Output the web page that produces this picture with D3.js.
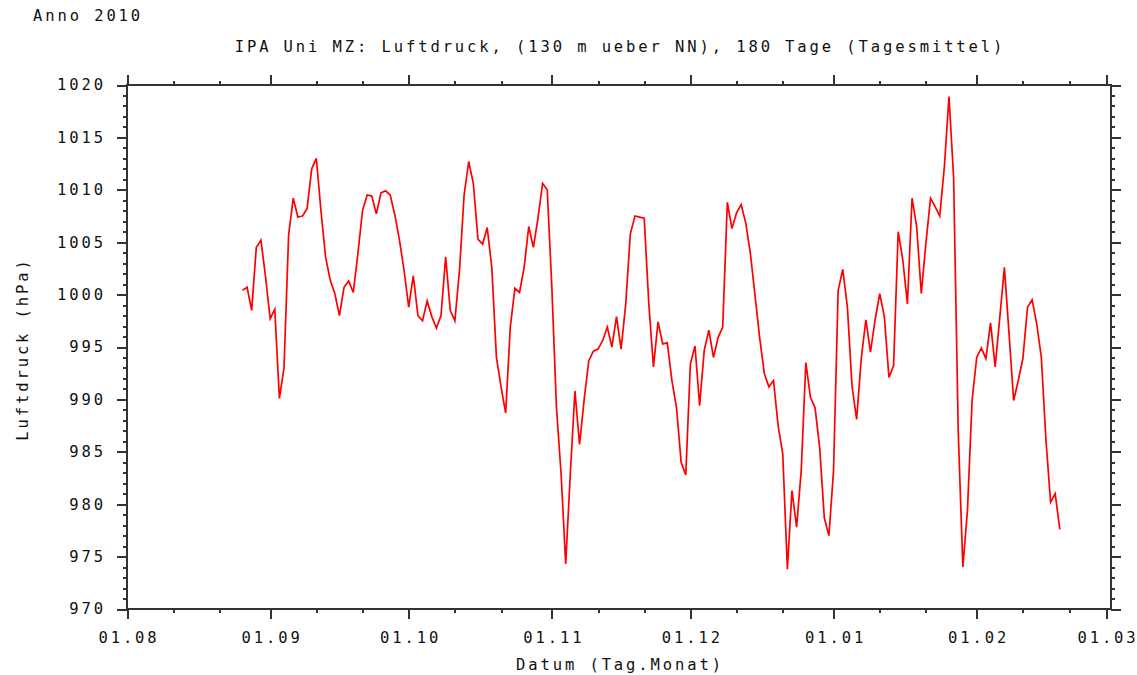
<!DOCTYPE html>
<html><head><meta charset="utf-8">
<script src="https://cdn.jsdelivr.net/npm/d3@7"></script>
<style>
body{margin:0;background:#fff}
svg{display:block;background:#fff}
text{font-family:"DejaVu Sans Mono","Liberation Mono",monospace;font-size:15.5px;letter-spacing:2.9px;fill:#111}
</style>
</head><body><svg id="c" width="1137" height="675"></svg>
<script>
// ---- data ----
const dates = [
"2010-08-26","2010-08-27","2010-08-28","2010-08-29","2010-08-30","2010-08-31",
"2010-09-01","2010-09-02","2010-09-03","2010-09-04","2010-09-05","2010-09-06","2010-09-07","2010-09-08","2010-09-09","2010-09-10",
"2010-09-11","2010-09-12","2010-09-13","2010-09-14","2010-09-15","2010-09-16","2010-09-17","2010-09-18","2010-09-19","2010-09-20",
"2010-09-21","2010-09-22","2010-09-23","2010-09-24","2010-09-25","2010-09-26","2010-09-27","2010-09-28","2010-09-29","2010-09-30",
"2010-10-01","2010-10-02","2010-10-03","2010-10-04","2010-10-05","2010-10-06","2010-10-07","2010-10-08","2010-10-09","2010-10-10",
"2010-10-11","2010-10-12","2010-10-13","2010-10-14","2010-10-15","2010-10-16","2010-10-17","2010-10-18","2010-10-19","2010-10-20",
"2010-10-21","2010-10-22","2010-10-23","2010-10-24","2010-10-25","2010-10-26","2010-10-27","2010-10-28","2010-10-29","2010-10-30","2010-10-31",
"2010-11-01","2010-11-02","2010-11-03","2010-11-04","2010-11-05","2010-11-06","2010-11-07","2010-11-08","2010-11-09","2010-11-10",
"2010-11-11","2010-11-12","2010-11-13","2010-11-14","2010-11-15","2010-11-16","2010-11-17","2010-11-18","2010-11-19","2010-11-20",
"2010-11-21","2010-11-22","2010-11-23","2010-11-24","2010-11-25","2010-11-26","2010-11-27","2010-11-28","2010-11-29","2010-11-30",
"2010-12-01","2010-12-02","2010-12-03","2010-12-04","2010-12-05","2010-12-06","2010-12-07","2010-12-08","2010-12-09","2010-12-10",
"2010-12-11","2010-12-12","2010-12-13","2010-12-14","2010-12-15","2010-12-16","2010-12-17","2010-12-18","2010-12-19","2010-12-20",
"2010-12-21","2010-12-22","2010-12-23","2010-12-24","2010-12-25","2010-12-26","2010-12-27","2010-12-28","2010-12-29","2010-12-30","2010-12-31",
"2011-01-01","2011-01-02","2011-01-03","2011-01-04","2011-01-05","2011-01-06","2011-01-07","2011-01-08","2011-01-09","2011-01-10",
"2011-01-11","2011-01-12","2011-01-13","2011-01-14","2011-01-15","2011-01-16","2011-01-17","2011-01-18","2011-01-19","2011-01-20",
"2011-01-21","2011-01-22","2011-01-23","2011-01-24","2011-01-25","2011-01-26","2011-01-27","2011-01-28","2011-01-29","2011-01-30","2011-01-31",
"2011-02-01","2011-02-02","2011-02-03","2011-02-04","2011-02-05","2011-02-06","2011-02-07","2011-02-08","2011-02-09","2011-02-10",
"2011-02-11","2011-02-12","2011-02-13","2011-02-14","2011-02-15","2011-02-16","2011-02-17","2011-02-18","2011-02-19"
];
const pressure = [
1000.4,1000.7,998.5,1004.5,1005.2,1001.7,
997.7,998.6,990.1,993.0,1005.7,1009.2,1007.4,1007.5,1008.2,1012.0,
1013.0,1008.0,1003.6,1001.4,1000.1,998.0,1000.7,1001.3,1000.2,1003.9,
1008.0,1009.5,1009.4,1007.7,1009.7,1009.9,1009.5,1007.6,1005.2,1002.3,
998.8,1001.8,998.0,997.5,999.4,997.9,996.8,998.0,1003.6,998.5,
997.5,1002.3,1009.5,1012.7,1010.6,1005.3,1004.8,1006.4,1002.6,994.0,
991.2,988.7,996.9,1000.6,1000.2,1002.6,1006.5,1004.5,1007.3,1010.6,1010.0,
1000.7,989.2,982.9,974.3,982.9,990.8,985.7,990.0,993.7,994.6,
994.8,995.6,996.9,995.0,997.9,994.8,999.1,1005.8,1007.5,1007.4,
1007.3,999.1,993.1,997.4,995.3,995.4,991.8,989.2,984.0,982.8,
993.4,995.1,989.4,994.7,996.6,994.0,995.9,996.9,1008.8,1006.3,
1007.8,1008.6,1006.8,1003.9,999.9,995.9,992.5,991.2,991.8,987.5,
984.8,973.8,981.3,977.8,983.2,993.5,990.2,989.2,985.4,978.7,977.0,
983.2,1000.4,1002.4,998.8,991.3,988.1,993.9,997.6,994.5,997.6,
1000.1,997.9,992.1,993.2,1006.0,1003.3,999.1,1009.2,1006.5,1000.1,
1004.9,1009.2,1008.4,1007.5,1012.2,1018.9,1011.2,987.0,974.0,979.4,989.9,
994.0,994.9,993.9,997.3,993.1,997.8,1002.6,996.3,989.9,991.8,
993.9,998.8,999.5,997.2,994.0,986.1,980.2,981.0,977.6
];
const yTickValues = [970,975,980,985,990,995,1000,1005,1010,1015,1020];
const xTickDates = ["2010-08-01","2010-09-01","2010-10-01","2010-11-01","2010-12-01","2011-01-01","2011-02-01","2011-03-01"];
const xTickLabels = ["01.08","01.09","01.10","01.11","01.12","01.01","01.02","01.03"];
const titleText = "IPA Uni MZ: Luftdruck, (130 m ueber NN), 180 Tage (Tagesmittel)";
const yearText = "Anno 2010";
const xTitle = "Datum (Tag.Monat)";
const yTitle = "Luftdruck (hPa)";

// ---- layout ----
const parse = d3.timeParse("%Y-%m-%d");
const svg = d3.select("#c");
const L = 127, R = 1111, T = 85, B = 609;
const x = d3.scaleTime().domain([parse(xTickDates[0]), parse(xTickDates[xTickDates.length-1])]).range([L, 1106]);
const y = d3.scaleLinear().domain([970, 1020]).range([B, T]);

const minorY = d3.range(970, 1021, 1);
const minorX = d3.timeDay.range(x.domain()[0], x.domain()[1]).filter(d => d.getDate() === 11 || d.getDate() === 21);
const majorX = xTickDates.map(parse);

function styleAxis(g) {
  g.select(".domain").remove();
  g.attr("font-family", null).attr("font-size", null);
  g.selectAll(".tick line").attr("stroke", "#333").attr("stroke-width", 2).attr("shape-rendering", "crispEdges");
  g.selectAll(".tick text").attr("fill", "#111");
}

// frame
svg.append("rect").attr("x", L).attr("y", T).attr("width", R - L).attr("height", B - T)
  .attr("fill", "none").attr("stroke", "#333").attr("stroke-width", 2).attr("shape-rendering", "crispEdges");

// left axis
svg.append("g").attr("transform", `translate(${L},0)`)
  .call(d3.axisLeft(y).tickValues(minorY).tickSize(4).tickFormat("")).call(styleAxis);
svg.append("g").attr("transform", `translate(${L},0)`)
  .call(d3.axisLeft(y).tickValues(yTickValues).tickSize(10).tickPadding(11).tickFormat(d3.format("d"))).call(styleAxis);

// right axis
svg.append("g").attr("transform", `translate(${R},0)`)
  .call(d3.axisRight(y).tickValues(minorY).tickSize(4).tickFormat("")).call(styleAxis);
svg.append("g").attr("transform", `translate(${R},0)`)
  .call(d3.axisRight(y).tickValues(yTickValues).tickSize(10).tickFormat("")).call(styleAxis);

// bottom axis
svg.append("g").attr("transform", `translate(0,${B})`)
  .call(d3.axisBottom(x).tickValues(minorX).tickSize(4).tickFormat("")).call(styleAxis);
const gb = svg.append("g").attr("transform", `translate(0,${B})`)
  .call(d3.axisBottom(x).tickValues(majorX).tickSize(10).tickPadding(13).tickFormat((d, i) => xTickLabels[i])).call(styleAxis);
gb.selectAll(".tick text").attr("dx", "1.5");

// top axis
svg.append("g").attr("transform", `translate(0,${T})`)
  .call(d3.axisTop(x).tickValues(minorX).tickSize(4).tickFormat("")).call(styleAxis);
svg.append("g").attr("transform", `translate(0,${T})`)
  .call(d3.axisTop(x).tickValues(majorX).tickSize(10).tickFormat("")).call(styleAxis);

// line
const series = dates.map((d, i) => ({ date: parse(d), value: pressure[i] }));
svg.append("path").datum(series)
  .attr("fill", "none").attr("stroke", "#ff0000").attr("stroke-width", 1.7)
  .attr("d", d3.line().x(d => x(d.date)).y(d => y(d.value)));

// texts
svg.append("text").attr("x", 33).attr("y", 21).text(yearText);
svg.append("text").attr("x", 620).attr("y", 52).attr("text-anchor", "middle").text(titleText);
svg.append("text").attr("x", 620).attr("y", 670).attr("text-anchor", "middle").text(xTitle);
svg.append("text").attr("transform", "translate(28,349) rotate(-90)").attr("text-anchor", "middle").text(yTitle);
</script>
</body></html>
